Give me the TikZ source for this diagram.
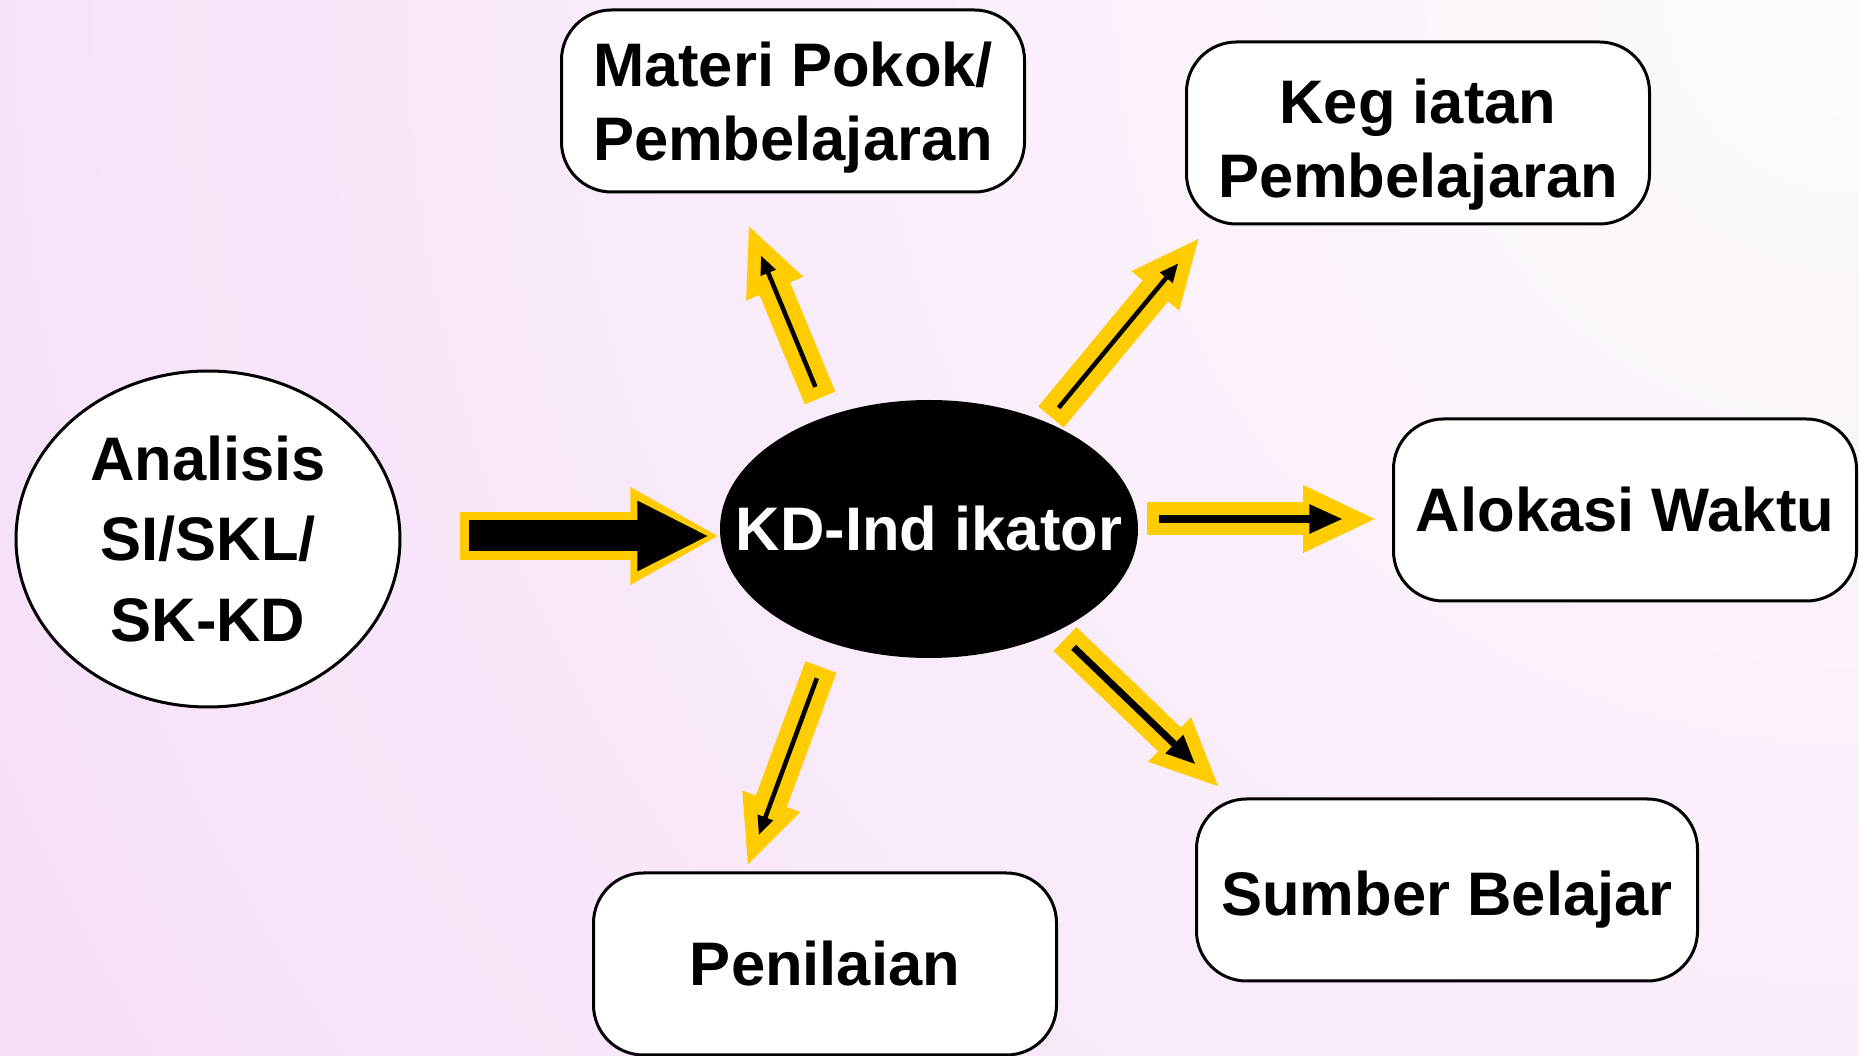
\documentclass[tikz,border=0pt]{standalone}
\usepackage{fontspec}
\setmainfont{Liberation Sans}
\usetikzlibrary{arrows.meta}
\usetikzlibrary{shapes.geometric}

\definecolor{bgpink}{RGB}{245,222,247}
\definecolor{bglight}{RGB}{253,250,253}
\definecolor{yolk}{RGB}{255,204,0}

\begin{document}
\begin{tikzpicture}[x=0.1mm,y=-0.1mm,
  lbl/.style={font=\fontsize{17.5}{21}\selectfont\bfseries,align=center,inner sep=0pt},
  boxnode/.style={lbl,draw=black,line width=0.3mm,fill=white,rounded corners=5mm,
    minimum width=46.3mm,minimum height=18.2mm},
  yarrow/.style={yolk,line width=3.3mm,-{Triangle[width=5.6mm,length=7mm]}},
  barrow/.style={black,shorten <=1.2mm,shorten >=3.4mm,
    -{Triangle[width=0pt 3.4,length=0pt 4.2]}}]

\useasboundingbox (0,0) rectangle (1859,1056);
\fill[bgpink] (0,0) rectangle (1859,1056);
\begin{scope}
  \clip (0,0) rectangle (1859,1056);
  \shade[inner color=bglight,outer color=bgpink] (1859,0) circle (2200);
\end{scope}

% nodes
\node[lbl,ellipse,draw=black,line width=0.3mm,fill=white,
  font=\fontsize{17.5}{23}\selectfont\bfseries,
  minimum width=38.4mm,minimum height=33.6mm] (ana) at (208,539)
  {Analisis\\SI/SKL/\\SK-KD};
\node[lbl,ellipse,fill=black,text=white,inner xsep=-4.8mm,
  minimum width=41.8mm,minimum height=25.8mm] (kd) at (929,529) {KD-Ind ikator};

\node[boxnode,text depth=-0.6mm] (materi) at (793,101) {Materi Pokok/\\Pembelajaran};
\node[boxnode] (keg) at (1418,133) {\rule{0pt}{6.8mm}Keg iatan\\Pembelajaran};
\node[boxnode] (alok) at (1625,510) {Alokasi Waktu};
\node[boxnode,minimum width=50.1mm] (sumber) at (1447,890) {\rule{0pt}{6.4mm}Sumber Belajar};
\node[boxnode] (pen) at (825,964) {Penilaian};

% big arrow into KD
\coordinate (bigtail) at (460,536);
\draw[yolk,line width=4.8mm,-{Triangle[width=9.1mm,length=8.9mm]}]
  (bigtail) -- (kd.west |- bigtail);
\draw[black,line width=3.1mm,shorten <=0.9mm,shorten >=1mm,
  -{Triangle[width=6.5mm,length=7.2mm]}]
  (bigtail) -- (kd.west |- bigtail);

% arrows out of KD
\coordinate (m0) at (820,398);  \coordinate (m1) at (748,224);
\coordinate (k0) at (1051,417); \coordinate (k1) at (1200,237);
\coordinate (s0) at (1065,639); \coordinate (s1) at (1220,788);
\coordinate (p0) at (821,667);  \coordinate (p1) at (747,867);
\coordinate (a0) at (1147,519); \coordinate (a1) at (1377,519);

\foreach \Ts/\Te/\Wd in {m0/m1/0.45mm,k0/k1/0.45mm,s0/s1/0.7mm,p0/p1/0.45mm}
{
  \draw[yarrow] (\Ts) -- (\Te);
  \draw[barrow,line width=\Wd] (\Ts) -- (\Te);
}
\draw[yarrow,-{Triangle[width=6.2mm,length=7.4mm]}] (a0) -- (a1);
\draw[barrow,line width=0.8mm] (a0) -- (a1);
\end{tikzpicture}
\end{document}
